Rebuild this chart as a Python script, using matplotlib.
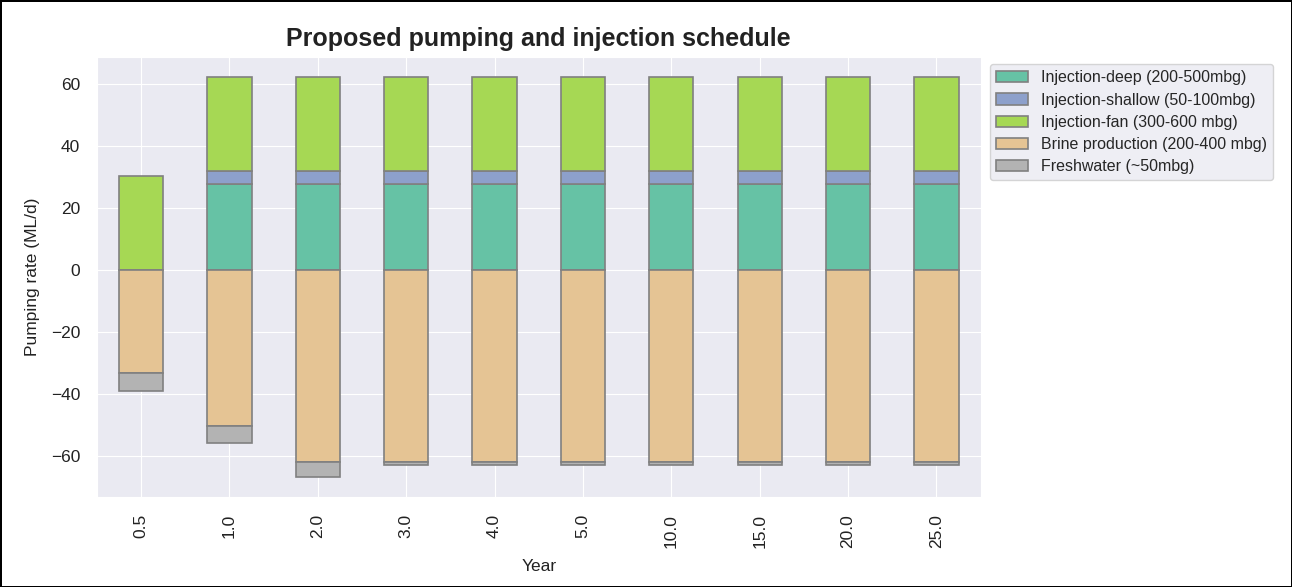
import numpy as np
import pandas as pd
import matplotlib
matplotlib.use('Agg')
import matplotlib.pyplot as plt
import seaborn as sns

# data (ML/d)
years = [0.5, 1.0, 2.0, 3.0, 4.0, 5.0, 10.0, 15.0, 20.0, 25.0]
inj_deep = [0, 27.7, 27.7, 27.7, 27.7, 27.7, 27.7, 27.7, 27.7, 27.7]
inj_shallow = [0, 4.2, 4.2, 4.2, 4.2, 4.2, 4.2, 4.2, 4.2, 4.2]
inj_fan = [30.4, 30.4, 30.4, 30.4, 30.4, 30.4, 30.4, 30.4, 30.4, 30.4]
brine = [-33.5, -50.6, -62.0, -62.0, -62.0, -62.0, -62.0, -62.0, -62.0, -62.0]
freshwater = [-5.5, -5.4, -5.0, -1.2, -1.2, -1.2, -1.2, -1.2, -1.2, -1.2]

labels = ['Injection-deep (200-500mbg)', 'Injection-shallow (50-100mbg)',
          'Injection-fan (300-600 mbg)', 'Brine production (200-400 mbg)',
          'Freshwater (~50mbg)']
colors = ['#66c2a5', '#8da0cb', '#a6d854', '#e5c494', '#b3b3b3']

sns.set_style('darkgrid')
plt.rcParams['font.family'] = ['Liberation Sans', 'DejaVu Sans']

df = pd.DataFrame({labels[0]: inj_deep, labels[1]: inj_shallow, labels[2]: inj_fan,
                   labels[3]: brine, labels[4]: freshwater}, index=years)

fig = plt.figure(figsize=(12.92, 5.87), dpi=100)
fig.patch.set_edgecolor('black')
fig.patch.set_linewidth(2)
ax = fig.add_axes([0.075, 0.153, 0.684, 0.75])

df.plot(kind='bar', stacked=True, ax=ax, color=colors, edgecolor='grey',
        linewidth=1.2, width=0.5)

ax.set_title('Proposed pumping and injection schedule', fontsize=18,
             fontweight='bold', color='#222222', pad=8)
ax.set_xlabel('Year', fontsize=12.5, color='#222222', labelpad=8)
ax.set_ylabel('Pumping rate (ML/d)', fontsize=12.5, color='#222222', labelpad=8)
ax.tick_params(axis='both', labelsize=12.5, colors='#222222', pad=8.5)
ax.set_xticklabels([str(y) for y in years], rotation=90)
ax.legend(loc='upper left', bbox_to_anchor=(1.005, 0.995), fontsize=11.5,
          frameon=True, borderaxespad=0.3, labelspacing=0.45)

fig.savefig('out.png', dpi=100)
